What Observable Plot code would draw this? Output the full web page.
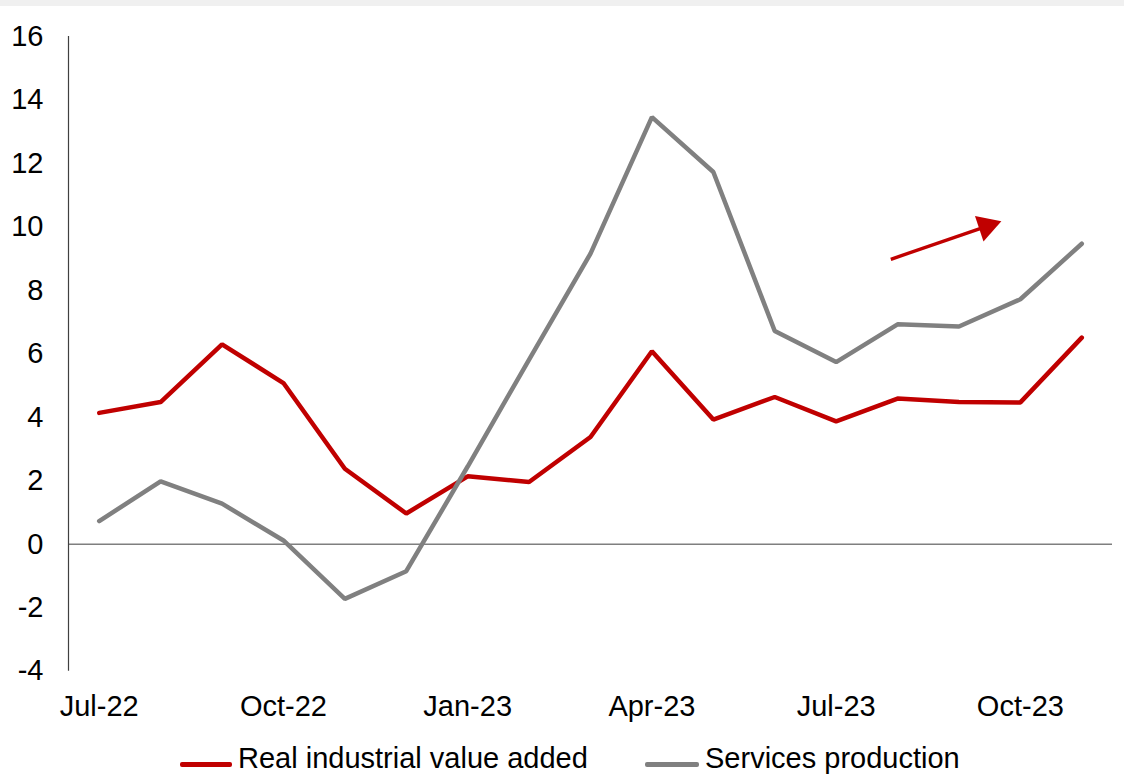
<!DOCTYPE html>
<html>
<head>
<meta charset="utf-8">
<script src="https://cdn.jsdelivr.net/npm/d3@7"></script>
<script src="https://cdn.jsdelivr.net/npm/@observablehq/plot@0.6"></script>
<style>
  html, body { margin: 0; padding: 0; background: #fff; }
  body { width: 1124px; height: 778px; position: relative; overflow: hidden;
         font-family: "Liberation Sans", Arial, sans-serif; }
  #band { position: absolute; left: 0; top: 0; width: 1124px; height: 6px; background: #f0f0f0; }
  #chart { position: absolute; left: 0; top: 0; }
  .legend { position: absolute; top: 742px; left: 0; width: 1124px; height: 36px; font-size: 29px; color: #000; }
  .item { position: absolute; top: 0; display: flex; align-items: center; white-space: nowrap; }
  .sw { display: inline-block; width: 52px; height: 4.5px; border-radius: 2px; margin-right: 6px; position: relative; top: 6px; }
</style>
</head>
<body>
<div id="chart"></div>
<div id="band"></div>
<div class="legend" id="legend"></div>
<script>
// ---- data ----
const months = ["Jul-22","Aug-22","Sep-22","Oct-22","Nov-22","Dec-22","Jan-23","Feb-23","Mar-23","Apr-23","May-23","Jun-23","Jul-23","Aug-23","Sep-23","Oct-23","Nov-23"];
const industrialValueAdded = [4.14, 4.48, 6.30, 5.08, 2.38, 0.97, 2.14, 1.96, 3.38, 6.08, 3.93, 4.64, 3.87, 4.59, 4.48, 4.47, 6.51];
const servicesProduction = [0.73, 1.98, 1.28, 0.12, -1.72, -0.85, 2.45, 5.82, 9.16, 13.46, 11.73, 6.72, 5.74, 6.93, 6.86, 7.72, 9.47];
const yTicks = [-4, -2, 0, 2, 4, 6, 8, 10, 12, 14, 16];
const xTickMonths = ["Jul-22", "Oct-22", "Jan-23", "Apr-23", "Jul-23", "Oct-23"];
const seriesNames = ["Real industrial value added", "Services production"];
const seriesColors = ["#C00000", "#808080"];
// trend arrow annotation (month index, value)
const arrowTail = {x: 12.89, y: 8.98};
const arrowHead = {x: 14.45, y: 10.02};

const rows = (vals, name) => vals.map((v, i) => ({i, month: months[i], value: v, series: name}));
const indRows = rows(industrialValueAdded, seriesNames[0]);
const svcRows = rows(servicesProduction, seriesNames[1]);

const headAngle = 71.6; // rotation of the arrowhead triangle (degrees clockwise)

const chart = Plot.plot({
  width: 1124,
  height: 730,
  marginLeft: 68,
  marginRight: 12,
  marginTop: 36,
  marginBottom: 59.3,
  style: {fontSize: "29px", fontFamily: "'Liberation Sans', Arial, sans-serif", color: "#000", background: "transparent"},
  x: {type: "linear", domain: [-0.5, months.length - 0.5]},
  y: {domain: [-4, 16]},
  marks: [
    Plot.ruleY([0], {stroke: "#7f7f7f", strokeWidth: 1.3}),
    Plot.ruleX([-0.5], {stroke: "#404040", strokeWidth: 1.2}),
    Plot.axisY({ticks: yTicks, tickSize: 0, tickPadding: 25, label: null, tickFormat: d => String(d)}),
    Plot.axisX({ticks: xTickMonths.map(m => months.indexOf(m)), tickSize: 0, tickPadding: 24, label: null, tickFormat: i => months[i]}),
    Plot.line(indRows, {x: "i", y: "value", stroke: seriesColors[0], strokeWidth: 4.5, strokeLinejoin: "miter", strokeLinecap: "round"}),
    Plot.line(svcRows, {x: "i", y: "value", stroke: seriesColors[1], strokeWidth: 4.5, strokeLinejoin: "miter", strokeLinecap: "round"}),
    Plot.link([{x1: arrowTail.x, y1: arrowTail.y, x2: arrowHead.x, y2: arrowHead.y}], {x1: "x1", y1: "y1", x2: "x2", y2: "y2", stroke: seriesColors[0], strokeWidth: 3.4, strokeLinecap: "butt"}),
    Plot.dot([arrowHead], {x: "x", y: "y", symbol: "triangle", r: 10, fill: seriesColors[0], stroke: "none", rotate: headAngle})
  ]
});
document.getElementById("chart").appendChild(chart);

// legend
const legend = document.getElementById("legend");
const legendLeft = [180, 645];
seriesNames.forEach((name, k) => {
  const item = document.createElement("div");
  item.className = "item";
  item.style.left = legendLeft[k] + "px";
  const sw = document.createElement("span");
  sw.className = "sw";
  sw.style.background = seriesColors[k];
  if (k === 1) sw.style.width = "54px";
  const t = document.createElement("span");
  t.textContent = name;
  item.appendChild(sw);
  item.appendChild(t);
  legend.appendChild(item);
});
</script>
</body>
</html>
